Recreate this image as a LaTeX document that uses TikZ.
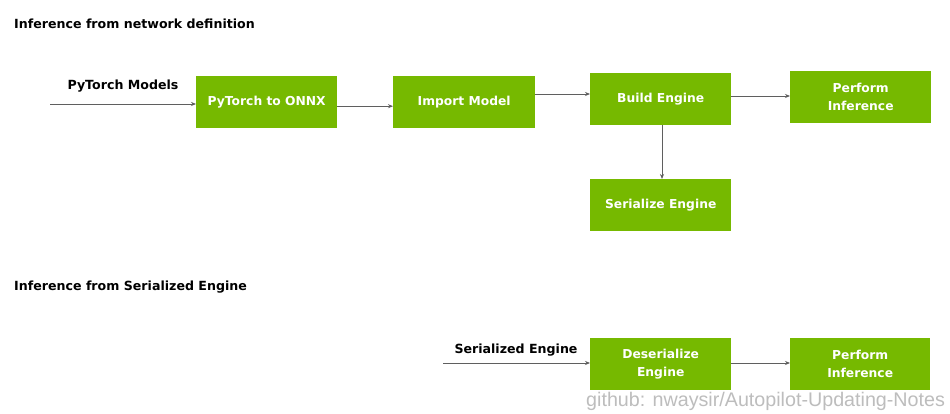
\documentclass[tikz,border=0pt]{standalone}
\usepackage{fontspec}
\setmainfont{DejaVu Sans}
\newfontfamily\wmfont{Liberation Sans}
\usetikzlibrary{arrows.meta}
\definecolor{nvgreen}{HTML}{76B900}
\definecolor{arrowgray}{HTML}{5F5F5F}
\definecolor{wmgray}{HTML}{BDBDBD}
\tikzset{
  box/.style={fill=nvgreen, draw=none, text=white, font=\fontsize{12.3}{18}\selectfont\bfseries, align=center, inner sep=0pt},
  conn/.style={draw=arrowgray, line width=0.8pt, -{Stealth[length=5pt,width=4pt]}},
  lbl/.style={font=\fontsize{12.6}{15}\selectfont\bfseries, text=black, inner sep=0pt},
}
\begin{document}
\begin{tikzpicture}[x=1pt,y=-1pt]
\useasboundingbox (0,0) rectangle (950,414);
\fill[white] (0,0) rectangle (950,414);

\node[lbl, anchor=west] (t1) at (14,24) {Inference from network definition};
\node[lbl, anchor=west] (t2) at (14,287) {Inference from Serialized Engine};

% row 1
\node[box, minimum width=141pt, minimum height=52pt, anchor=north west] (onnx) at (196,76) {PyTorch to ONNX};
\node[box, minimum width=142pt, minimum height=52pt, anchor=north west] (imp) at (393,76) {Import Model};
\node[box, minimum width=141pt, minimum height=52pt, anchor=north west] (build) at (590,73) {Build Engine};
\node[box, minimum width=141pt, minimum height=52pt, anchor=north west] (perf1) at (790,71) {Perform\\Inference};
\node[box, minimum width=141pt, minimum height=52pt, anchor=north west] (ser) at (590,179) {Serialize Engine};

\coordinate (in1) at (50,104);
\node[lbl] (pm) at (123,86) {PyTorch Models};
\draw[conn] (in1) -- (in1 -| onnx.west);
\draw[conn] ([yshift=-4pt]onnx.east) -- ([yshift=-4pt]onnx.east -| imp.west);
\draw[conn] (imp.east |- 0,94) -- (build.west |- 0,94);
\draw[conn] (build.east |- 0,96) -- (perf1.west |- 0,96);
\draw[conn] (662,125) -- (662,179);

% row 2
\node[box, minimum width=141pt, minimum height=52pt, anchor=north west] (deser) at (590,338) {Deserialize\\Engine};
\node[box, minimum width=140pt, minimum height=52pt, anchor=north west] (perf2) at (790,338) {Perform\\Inference};
\coordinate (in2) at (443,363);
\node[lbl] (se) at (516,350) {Serialized Engine};
\draw[conn] (in2) -- (in2 -| deser.west);
\draw[conn] (deser.east |- 0,363) -- (perf2.west |- 0,363);

\node[font=\wmfont\fontsize{19.7}{22}\selectfont, text=wmgray, anchor=west, inner sep=0pt] (wm) at (586,401) {github: nwaysir/Autopilot-Updating-Notes};
\end{tikzpicture}
\end{document}
